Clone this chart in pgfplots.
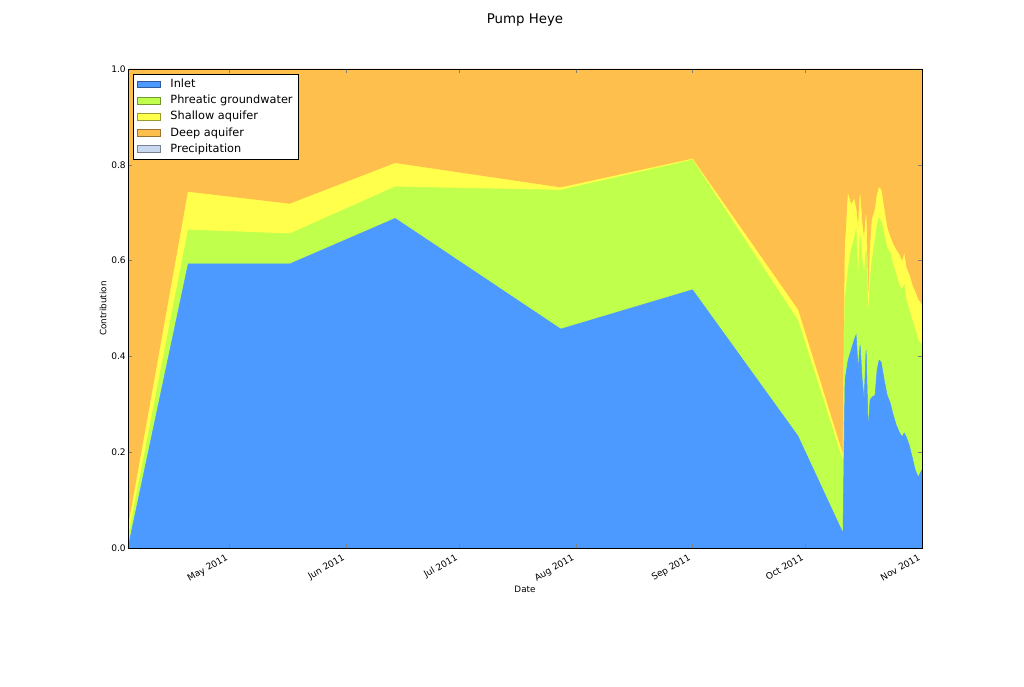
\documentclass[border=0pt]{standalone}
\usepackage{pgfplots}
\pgfplotsset{compat=1.18}
\usepackage{pgfplotstable}
\usepackage{fontspec}
\setmainfont{DejaVu Sans}
\definecolor{inletc}{RGB}{76,154,255}
\definecolor{phrc}{RGB}{192,255,76}
\definecolor{shac}{RGB}{255,255,76}
\definecolor{deepc}{RGB}{255,191,76}
\definecolor{precc}{RGB}{200,216,240}
% cumulative tops of the stacked contributions (day of year 2011, Jan 1 = 0)
\pgfplotstableread{
day inlet phr sha deep prec
93 0.000 0.020 0.040 1 1
109 0.593 0.664 0.743 1 1
136 0.593 0.656 0.718 1 1
164 0.688 0.754 0.803 1 1
208 0.457 0.747 0.752 1 1
243 0.539 0.810 0.812 1 1
271 0.234 0.475 0.497 1 1
283 0.031 0.180 0.193 1 1
283.56 0.351 0.518 0.622 1 1
284.36 0.392 0.580 0.737 1 1
285.16 0.413 0.622 0.716 1 1
285.96 0.434 0.643 0.727 1 1
286.49 0.445 0.664 0.706 1 1
287.02 0.372 0.549 0.664 1 1
287.55 0.424 0.653 0.737 1 1
288.09 0.351 0.601 0.674 1 1
288.62 0.309 0.570 0.643 1 1
289.15 0.413 0.622 0.695 1 1
289.68 0.246 0.476 0.497 1 1
290.21 0.309 0.559 0.622 1 1
290.74 0.315 0.601 0.685 1 1
291.54 0.319 0.643 0.706 1 1
292.07 0.372 0.674 0.737 1 1
292.61 0.392 0.689 0.752 1 1
293.14 0.388 0.681 0.747 1 1
293.94 0.351 0.653 0.706 1 1
294.73 0.319 0.626 0.668 1 1
295.53 0.303 0.616 0.649 1 1
296.33 0.278 0.591 0.633 1 1
297.13 0.257 0.570 0.622 1 1
297.93 0.242 0.549 0.612 1 1
298.72 0.232 0.539 0.597 1 1
299.26 0.240 0.549 0.612 1 1
299.79 0.232 0.518 0.585 1 1
300.59 0.215 0.497 0.570 1 1
301.38 0.190 0.476 0.549 1 1
302.18 0.163 0.455 0.534 1 1
302.98 0.148 0.434 0.518 1 1
304 0.163 0.424 0.507 1 1
}\datatab
\begin{document}
\begin{tikzpicture}
\path[use as bounding box] (0,0) rectangle (768pt,514.5pt);
\begin{axis}[
  at={(96pt,103.5pt)}, anchor=south west,
  scale only axis, width=595.5pt, height=359.25pt,
  xmin=93, xmax=304, ymin=0, ymax=1,
  axis on top,
  xtick={120,151,181,212,243,273,304},
  xticklabels={May 2011,Jun 2011,Jul 2011,Aug 2011,Sep 2011,Oct 2011,Nov 2011},
  ytick={0,0.2,0.4,0.6,0.8,1.0},
  yticklabel style={/pgf/number format/fixed, /pgf/number format/fixed zerofill, /pgf/number format/precision=1, inner sep=1.5pt},
  /pgf/number format/assume math mode=true,
  tick align=inside, major tick length=3pt,
  tick label style={font=\fontsize{6.8}{8}\selectfont},
  xticklabel style={xshift=-3pt, yshift=-2.5pt, rotate=30, anchor=north east, inner sep=1pt},
  xlabel={Date}, ylabel={Contribution},
  label style={font=\fontsize{6.6}{8}\selectfont},
  xlabel style={at={(axis description cs:0.5,-0.0856)}, anchor=center},
  ylabel style={at={(axis description cs:-0.0315,0.5)}, anchor=center},
  title={Pump Heye},
  title style={at={(axis description cs:0.5,1.0856)}, anchor=center, yshift=0pt, font=\fontsize{10}{12}\selectfont},
  legend style={at={(axis description cs:0,1)}, anchor=north west, xshift=3.75pt, yshift=-3.75pt,
    draw=black, fill=white, font=\fontsize{8.5}{10}\selectfont, row sep=1.2pt,
    nodes={inner sep=1.5pt}},
  legend cell align=left,
  legend image code/.code={\draw[#1] (2pt,-2.6pt) rectangle (19pt,2.6pt); \path (25pt,0pt);},
]
\addplot[fill=precc, draw=precc, forget plot] table[x=day,y=prec]{\datatab} \closedcycle;
\addplot[fill=deepc, draw=deepc, forget plot] table[x=day,y=deep]{\datatab} \closedcycle;
\addplot[fill=shac, draw=shac, forget plot] table[x=day,y=sha]{\datatab} \closedcycle;
\addplot[fill=phrc, draw=phrc, forget plot] table[x=day,y=phr]{\datatab} \closedcycle;
\addplot[fill=inletc, draw=inletc, forget plot] table[x=day,y=inlet]{\datatab} \closedcycle;
\addlegendimage{fill=inletc, draw=inletc!60!black}
\addlegendentry{Inlet}
\addlegendimage{fill=phrc, draw=phrc!60!black}
\addlegendentry{Phreatic groundwater}
\addlegendimage{fill=shac, draw=shac!60!black}
\addlegendentry{Shallow aquifer}
\addlegendimage{fill=deepc, draw=deepc!60!black}
\addlegendentry{Deep aquifer}
\addlegendimage{fill=precc, draw=precc!60!black}
\addlegendentry{Precipitation}
\end{axis}
\end{tikzpicture}
\end{document}
